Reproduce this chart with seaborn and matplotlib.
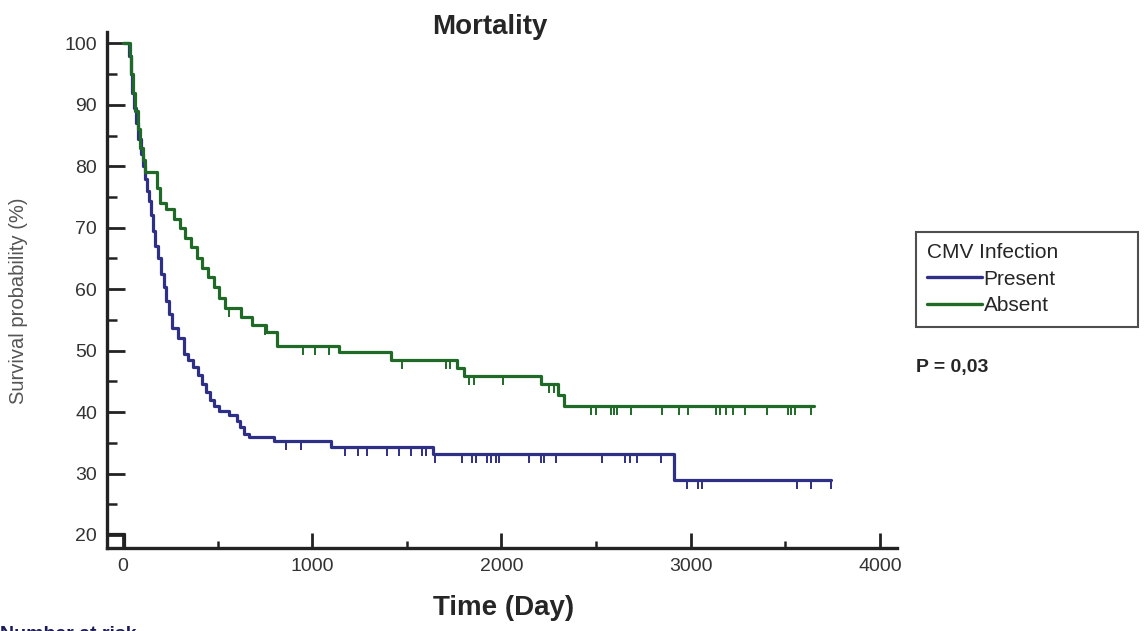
import numpy as np
import pandas as pd
import matplotlib
matplotlib.use("Agg")
import matplotlib.pyplot as plt
from matplotlib.ticker import MultipleLocator
import seaborn as sns

# Kaplan-Meier steps (day, survival %)
present_day = [0, 30, 40, 50, 60, 70, 80, 95, 105, 115, 125, 137, 148, 158, 170, 185,
               200, 216, 230, 245, 260, 290, 320, 345, 370, 395, 420, 440, 460, 480,
               505, 560, 600, 620, 640, 665, 800, 1100, 1640, 2910, 3740]
present_surv = [100, 98, 95, 92, 89.5, 87, 84.5, 82, 80, 78, 76, 74.4, 72, 69.5, 67, 65,
                62.5, 60.3, 58, 56, 53.7, 52, 49.5, 48.5, 47.3, 46, 44.5, 43.2, 42, 41,
                40.2, 39.5, 38.5, 37.5, 36.5, 36, 35.3, 34.4, 33.2, 29, 29]

absent_day = [0, 35, 45, 55, 65, 78, 92, 105, 118, 180, 197, 230, 270, 300, 330, 360,
              390, 420, 450, 480, 505, 540, 625, 680, 755, 815, 1140, 1415, 1765, 1800,
              2207, 2300, 2328, 3650]
absent_surv = [100, 98, 95, 92, 89, 86, 83, 81, 79, 76.5, 74, 73, 71.5, 70, 68.3, 66.8,
               65, 63.5, 62, 60.3, 58.6, 57, 55.4, 54.1, 53, 50.8, 49.7, 48.5, 47.1, 45.9,
               44.6, 42.7, 41, 41]

# censored observations (days)
present_cens = [861, 940, 1173, 1242, 1289, 1395, 1458, 1522, 1580, 1601, 1648, 1791,
                1844, 1865, 1923, 1944, 1971, 1987, 2145, 2209, 2225, 2288, 2531, 2652,
                2679, 2716, 2843, 2978, 3041, 3057, 3559, 3638, 3740]
absent_cens = [560, 752, 950, 1015, 1088, 1475, 1705, 1730, 1826, 1853, 2006, 2249, 2276,
               2471, 2497, 2577, 2592, 2608, 2687, 2846, 2936, 2988, 3131, 3157, 3184,
               3226, 3289, 3405, 3516, 3532, 3553, 3638]

groups = ["Present", "Absent"]
colors = {"Present": "#2e2f86", "Absent": "#1e6a26"}


def level_at(days, steps_day, steps_surv):
    idx = np.searchsorted(steps_day, days, side="right") - 1
    return np.asarray(steps_surv)[idx]


curves = pd.concat([
    pd.DataFrame({"day": present_day, "surv": present_surv, "group": "Present"}),
    pd.DataFrame({"day": absent_day, "surv": absent_surv, "group": "Absent"}),
])
cens = pd.concat([
    pd.DataFrame({"day": present_cens, "group": "Present",
                  "surv": level_at(present_cens, present_day, present_surv)}),
    pd.DataFrame({"day": absent_cens, "group": "Absent",
                  "surv": level_at(absent_cens, absent_day, absent_surv)}),
])

sns.set_theme(style="ticks")
plt.rcParams["font.family"] = ["Liberation Sans", "DejaVu Sans"]

fig = plt.figure(figsize=(11.44, 6.31), dpi=100)
ax = fig.add_axes([0.0935, 0.1315, 0.6906, 0.8177])

sns.lineplot(data=curves, x="day", y="surv", hue="group", hue_order=groups,
             palette=colors, drawstyle="steps-post", estimator=None, sort=False,
             linewidth=2.3, ax=ax)
sns.scatterplot(data=cens, x="day", y="surv", hue="group", hue_order=groups,
                palette=colors, marker=3, s=45, linewidth=1.4, legend=False, ax=ax)

ax.set_xlim(-84.5, 4090)
ax.set_ylim(17.88, 101.84)
ax.set_xticks([0, 1000, 2000, 3000, 4000])
ax.set_yticks(range(20, 101, 10))
ax.xaxis.set_minor_locator(MultipleLocator(500))
ax.yaxis.set_minor_locator(MultipleLocator(5))
ax.tick_params(which="major", direction="in", width=2, color="#222222",
               labelsize=14, labelcolor="#333333", pad=7)
ax.tick_params(axis="y", which="major", length=13)
ax.tick_params(axis="x", which="major", length=11)
ax.tick_params(axis="y", which="minor", direction="in", length=7, width=1.8, color="#222222")
ax.tick_params(axis="x", which="minor", direction="in", length=5, width=1.8, color="#222222")
for side in ["left", "bottom"]:
    ax.spines[side].set_linewidth(2.4)
    ax.spines[side].set_color("#222222")
sns.despine(ax=ax)

# little break mark at the bottom of the y axis
ax.plot([-84.5, 10, 10], [20.2, 20.2, 17.88], color="#222222", lw=1.6, clip_on=False)

ax.set_xlabel("")
ax.set_ylabel("Survival probability (%)", fontsize=14.5, color="#555555")
ax.yaxis.set_label_coords(-0.100, 0.48)
fig.text(0.428, 0.958, "Mortality", fontsize=20, fontweight="bold", ha="center", va="center")
fig.text(0.44, 0.037, "Time (Day)", fontsize=20, fontweight="bold", ha="center", va="center")

sns.move_legend(ax, loc="upper left", bbox_to_anchor=(0.8007, 0.4823, 0.194, 0.15),
                bbox_transform=fig.transFigure, mode="expand", title="CMV Infection",
                frameon=True, fancybox=False, fontsize=15, title_fontsize=15,
                alignment="left", handlelength=2.6, handletextpad=0.1,
                borderpad=0.55, labelspacing=0.35, borderaxespad=0)
leg = ax.get_legend()
leg.get_frame().set_edgecolor("#222222")
leg.get_frame().set_linewidth(1.5)
for line in leg.get_lines():
    line.set_linewidth(2.4)

fig.text(0.8007, 0.417, "P = 0,03", fontsize=14, fontweight="bold", ha="left", va="center")
fig.text(0.0, 1 - 626 / 631, "Number at risk", fontsize=14, fontweight="bold",
         color="#1b1b55", ha="left", va="top")

fig.savefig("out.png", dpi=100)
